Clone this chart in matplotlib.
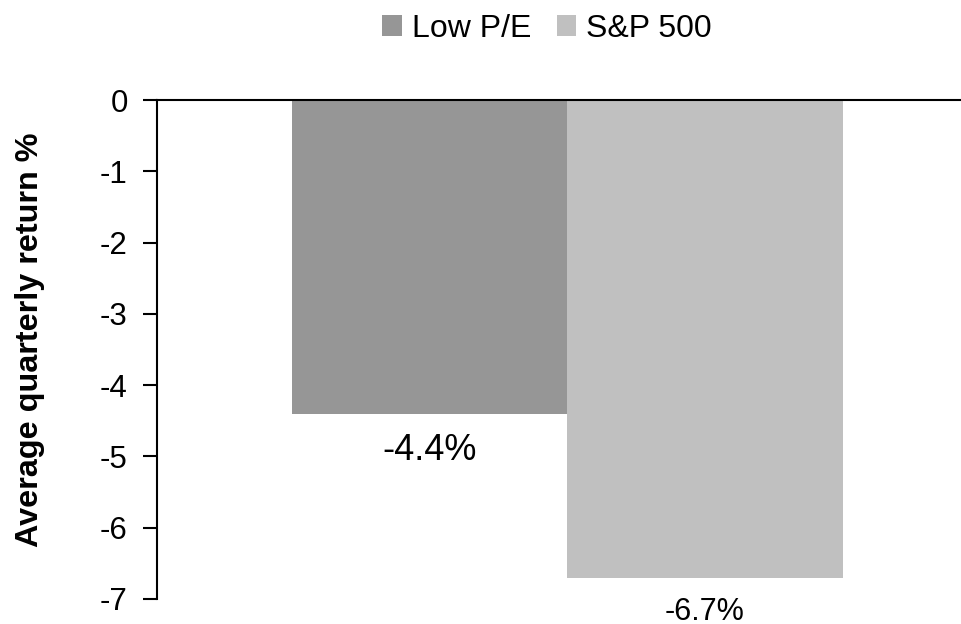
import numpy as np
import matplotlib.pyplot as plt

plt.rcParams['font.family'] = ['Liberation Sans', 'DejaVu Sans']

series = ['Low P/E', 'S&P 500']
values = [-4.4, -6.7]
labels = ['-4.4%', '-6.7%']
colors = ['#969696', '#c0c0c0']
label_sizes = [26, 22]
yticks = [0, -1, -2, -3, -4, -5, -6, -7]

fig = plt.figure(figsize=(9.61, 6.24), dpi=100)
ax = fig.add_axes([157 / 961, 25 / 624, 803 / 961, 499 / 624])

x = np.arange(len(series))
bars = ax.bar(x, values, width=1.0, color=colors, label=series, zorder=2)

for b, lab, fs in zip(bars, labels, label_sizes):
    ax.annotate(lab, (b.get_x() + b.get_width() / 2, b.get_height()),
                xytext=(0, -14), textcoords='offset points',
                ha='center', va='top', fontsize=fs, annotation_clip=False)

ax.set_xlim(-0.989, 1.926)
ax.set_ylim(-7, 0)
ax.set_yticks(yticks)
ax.set_yticklabels([str(t) for t in yticks])
ax.set_xticks([])

for s in ['right', 'bottom']:
    ax.spines[s].set_visible(False)
ax.spines['left'].set_linewidth(1.5)
ax.spines['top'].set_linewidth(1.5)
ax.spines['top'].set_zorder(3)
ax.tick_params(axis='y', length=10, width=1.5, labelsize=22.5, pad=11)

ax.set_ylabel('Average quarterly return %', fontsize=23.3, fontweight='bold')
ax.yaxis.set_label_coords(-0.14, 0.52)

fig.legend(handles=list(bars), labels=series, loc='center', bbox_to_anchor=(547 / 961, 1 - 29 / 624),
           ncol=2, frameon=False, fontsize=23, handlelength=0.62, handleheight=0.62,
           handletextpad=0.3, columnspacing=0.8, borderaxespad=0)

fig.savefig('out.png', dpi=100)
